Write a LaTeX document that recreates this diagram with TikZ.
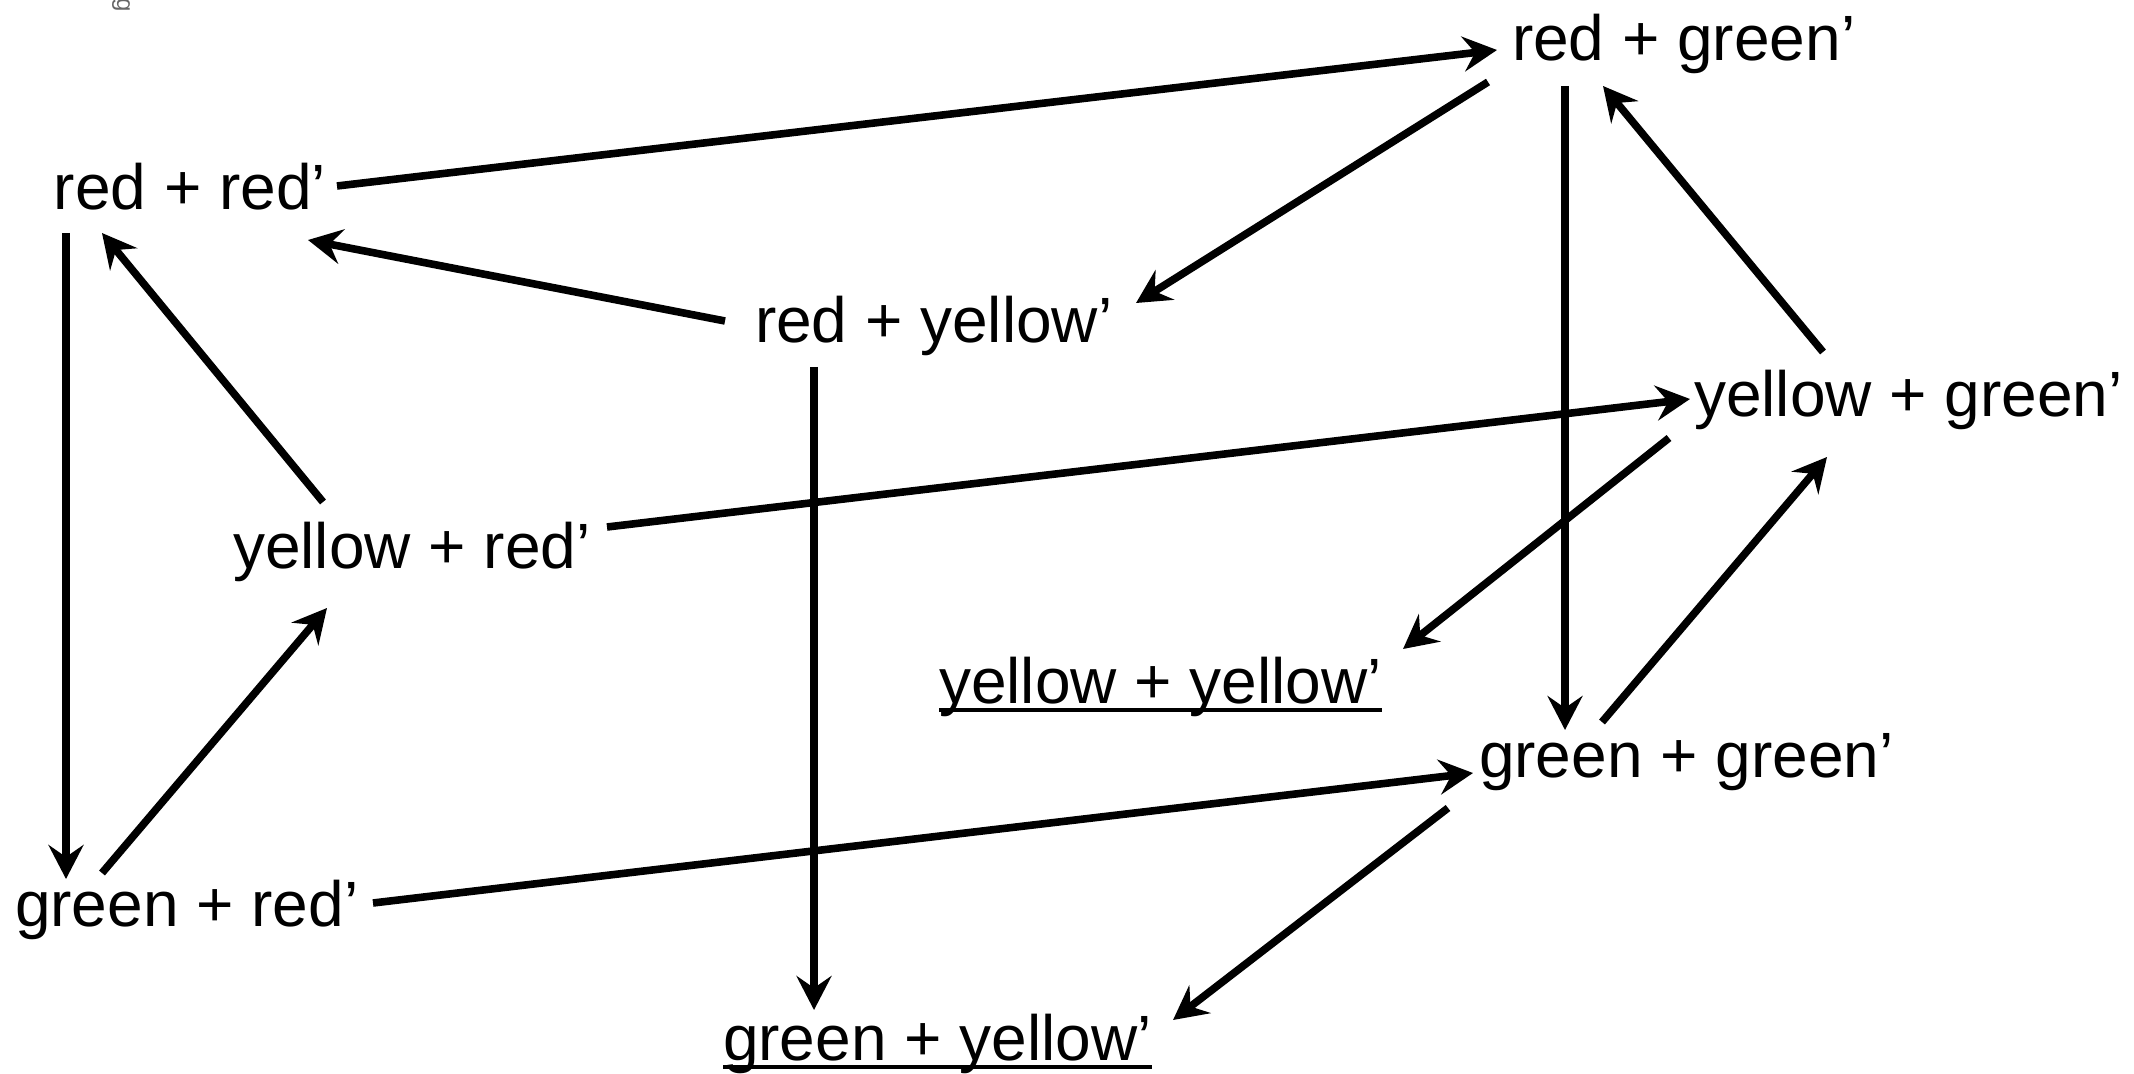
\documentclass[tikz,border=0pt]{standalone}
\usepackage{fontspec}
\setmainfont{Liberation Sans}
\usetikzlibrary{arrows.meta,calc}
\begin{document}
\begin{tikzpicture}[x=0.5pt,y=-0.5pt,
  lbl/.style={anchor=base west,inner sep=0pt,outer sep=0pt,font=\fontsize{32}{38}\selectfont},
  arr/.style={line width=3.8pt,-{Stealth[length=17pt,width=17.5pt,inset=6pt]}},
  uline/.style={line width=1.7pt}]
\useasboundingbox[fill=white] (0,0) rectangle (2134,1074);
\node[rotate=-90,text=black!60,inner sep=0pt,font=\fontsize{12}{13}\selectfont] (tag) at (121,5) {g};
\node[lbl] (A) at (54,210) {red + red’};
\node[lbl] (B) at (1512,61) {red + green’};
\node[lbl] (C) at (755,343) {red + yellow’};
\node[lbl] (D) at (1694,417) {yellow + green’};
\node[lbl] (E) at (233,568) {yellow + red’};
\node[lbl] (F) at (939,703) {yellow + yellow’};
\node[lbl] (G) at (1479,777) {green + green’};
\node[lbl] (H) at (15,926) {green + red’};
\node[lbl] (I) at (723,1060) {green + yellow’};
% underlines
\draw[uline] ($(F.base west)+(0,7)$) -- ($(F.base east)+(0,7)$);
\draw[uline] ($(I.base west)+(0,7)$) -- ($(I.base east)+(0,7)$);
% connectors
\draw[arr] ($(A.base west)+(283,-24)$) -- ($(B.base west)+(-15,-11)$);
\draw[arr] ($(B.base west)+(-24,21)$) -- ($(C.base west)+(381,-40)$);
\draw[arr] ($(C.base west)+(-30,-22)$) -- ($(A.base west)+(254,30)$);
\draw[arr] ($(B.base west)+(53,25)$) -- ($(G.base west)+(86,-47)$);
\draw[arr] ($(D.base west)+(129,-65)$) -- ($(B.base west)+(91,25)$);
\draw[arr] ($(E.base west)+(90,-66)$) -- ($(A.base west)+(48,23)$);
\draw[arr] ($(E.base west)+(374,-41)$) -- ($(D.base west)+(-4,-18)$);
\draw[arr] ($(D.base west)+(-25,21)$) -- ($(F.base west)+(464,-54)$);
\draw[arr] ($(A.base west)+(12,23)$) -- ($(H.base west)+(51,-47)$);
\draw[arr] ($(H.base west)+(87,-53)$) -- ($(E.base west)+(94,40)$);
\draw[arr] ($(H.base west)+(358,-23)$) -- ($(G.base west)+(-6,-4)$);
\draw[arr] ($(G.base west)+(123,-55)$) -- ($(D.base west)+(133,40)$);
\draw[arr] ($(G.base west)+(-31,31)$) -- ($(I.base west)+(450,-40)$);
\draw[arr] ($(C.base west)+(59,24)$) -- ($(I.base west)+(91,-50)$);
\end{tikzpicture}
\end{document}
